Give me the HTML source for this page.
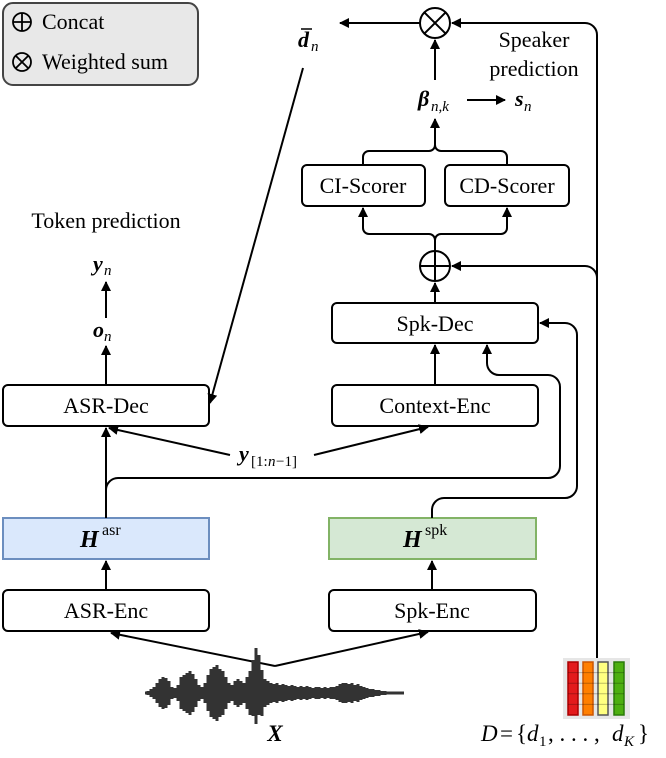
<!DOCTYPE html>
<html><head><meta charset="utf-8"><style>
body{margin:0;background:#fff}
svg text{font-family:"Liberation Serif",serif;fill:#000}
.m{font-style:italic}
</style></head><body>
<svg width="666" height="753" viewBox="0 0 666 753" xmlns="http://www.w3.org/2000/svg">
<defs><marker id="a" viewBox="0 0 10 10" refX="9" refY="5" markerWidth="5" markerHeight="5" orient="auto"><path d="M0,0 L10,5 L0,10 z" fill="#000"/></marker></defs>
<g fill="none" stroke="#000" stroke-width="2">
<rect x="3" y="3" width="195" height="82" rx="10" fill="#e8e8e8" stroke="#444"/>
<circle cx="22" cy="22" r="9" stroke-width="1.8"/><path d="M13,22h18M22,13v18" stroke-width="1.8"/>
<circle cx="22" cy="62" r="9" stroke-width="1.8"/><path d="M15.6,55.6l12.8,12.8M28.4,55.6l-12.8,12.8" stroke-width="1.8"/>
<circle cx="435" cy="23" r="15"/><path d="M424.4,12.4l21.2,21.2M445.6,12.4l-21.2,21.2"/>
<path d="M420,23H340" marker-end="url(#a)"/>
<path d="M435,80V40" marker-end="url(#a)"/>
<path d="M467,100H505" marker-end="url(#a)"/>
<path d="M363,165v-8a6,6 0 0 1 6,-6h60a6,6 0 0 0 6,-6v-26" marker-end="url(#a)"/>
<path d="M507,165v-8a6,6 0 0 0 -6,-6h-60a6,6 0 0 1 -6,-6"/>
<rect x="302" y="165" width="123" height="41" rx="5"/>
<rect x="445" y="165" width="124" height="41" rx="5"/>
<path d="M435,251v-11a6,6 0 0 0 -6,-6h-60a6,6 0 0 1 -6,-6v-20" marker-end="url(#a)"/>
<path d="M435,240a6,6 0 0 1 6,-6h60a6,6 0 0 0 6,-6v-20" marker-end="url(#a)"/>
<circle cx="435" cy="266" r="15"/><path d="M420,266h30M435,251v30"/>
<path d="M435,303v-20" marker-end="url(#a)"/>
<path d="M597,658V35a12,12 0 0 0 -12,-12H452" marker-end="url(#a)"/>
<path d="M597,278a12,12 0 0 0 -12,-12H452" marker-end="url(#a)"/>
<rect x="332" y="303" width="206" height="40" rx="5"/>
<rect x="3" y="385" width="206" height="41" rx="5"/>
<rect x="332" y="385" width="206" height="41" rx="5"/>
<rect x="3" y="518" width="206" height="41" fill="#dae8fc" stroke="#6c8ebf"/>
<rect x="329" y="518" width="207" height="41" fill="#d5e8d4" stroke="#82b366"/>
<rect x="3" y="590" width="206" height="41" rx="5"/>
<rect x="329" y="590" width="207" height="41" rx="5"/>
<path d="M303,68L210,403" marker-end="url(#a)"/>
<path d="M106,385V346" marker-end="url(#a)"/>
<path d="M106,318V282" marker-end="url(#a)"/>
<path d="M435,385V345" marker-end="url(#a)"/>
<path d="M106,590V561" marker-end="url(#a)"/>
<path d="M432,590V561" marker-end="url(#a)"/>
<path d="M106,518V428" marker-end="url(#a)"/>
<path d="M230,455L109,428" marker-end="url(#a)"/>
<path d="M314,455L428,427" marker-end="url(#a)"/>
<path d="M106,490a12,12 0 0 1 12,-12H548a12,12 0 0 0 12,-12V387a12,12 0 0 0 -12,-12H499a12,12 0 0 1 -12,-12v-18" marker-end="url(#a)"/>
<path d="M432,518v-8a12,12 0 0 1 12,-12H565a12,12 0 0 0 12,-12V335a12,12 0 0 0 -12,-12H540" marker-end="url(#a)"/>
<path d="M275,666L428,632" marker-end="url(#a)"/>
<path d="M275,666L111,633" marker-end="url(#a)"/>
</g>
<g stroke="#333" stroke-width="3" fill="none">
<path d="M145,693H404
M148,691v4M151,689v8M154,687v12M157,683v20M160,679v28M163,677v32M166,678v30M169,681v24M172,687v12M175,688v10M178,685v16M181,677v32M184,675v36M187,673v40M190,671v44M193,674v38M196,679v28M199,685v16M202,687v12M205,683v20M208,675v36M211,669v48M214,667v52M217,665v56M220,669v48M223,671v44M226,677v32M229,683v20M232,685v16M235,681v24M238,679v28M241,681v24M244,683v20M247,677v32M250,671v44M253,660v56M256,648v76M259,655v60M262,670v46M265,679v28M268,681v24M271,683v20M274,684v18M277,683v20M280,685v16M283,684v18M286,685v16M289,686v14M292,685v16M295,686v14M298,687v12M301,686v14M304,687v12M307,686v14M310,687v12M313,688v10M316,687v12M319,687v12M322,688v10M325,687v12M328,688v10M331,687v12M334,687v12M337,686v14M340,684v18M343,683v20M346,683v20M349,684v18M352,683v20M355,685v16M358,684v18M361,686v14M364,687v12M367,688v10M370,689v8M373,689v8M376,690v6M379,690v6M382,691v4M385,691v4"/>
</g>
<rect x="563" y="658" width="67" height="61" fill="#e6e6e6"/>
<g stroke-width="1.5">
<rect x="568" y="662" width="10" height="53" fill="#e31a1c" stroke="#a00"/>
<rect x="583" y="662" width="10" height="53" fill="#ff7f00" stroke="#c50"/>
<rect x="598" y="662" width="10" height="53" fill="#ffff80" stroke="#555"/>
<rect x="614" y="662" width="10" height="53" fill="#4daf10" stroke="#2a7a08"/>
</g>
<g stroke-width="1" stroke="#0004"><path d="M568,672.6h56M568,683.2h56M568,693.8h56M568,704.4h56"/></g>
<text x="42" y="29" font-size="22">Concat</text>
<text x="42" y="69" font-size="22">Weighted sum</text>
<text x="298" y="47" font-size="22" class="m" font-weight="bold">d</text><path d="M301,29h11" stroke="#000" stroke-width="1.5"/><text x="311" y="51" font-size="15" class="m">n</text>
<text x="534" y="47" font-size="22" text-anchor="middle">Speaker</text>
<text x="534" y="76" font-size="22" text-anchor="middle">prediction</text>
<text x="418" y="106" font-size="22" class="m" font-weight="bold">β</text><text x="431" y="111" font-size="15" class="m">n,k</text>
<text x="515" y="106" font-size="22" class="m" font-weight="bold">s</text><text x="524" y="111" font-size="15" class="m">n</text>
<text x="363" y="193" font-size="22" text-anchor="middle">CI-Scorer</text>
<text x="507" y="193" font-size="22" text-anchor="middle">CD-Scorer</text>
<text x="106" y="228" font-size="22" text-anchor="middle">Token prediction</text>
<text x="93" y="271" font-size="22" class="m" font-weight="bold">y</text><text x="104" y="275" font-size="15" class="m">n</text>
<text x="93" y="337" font-size="22" class="m" font-weight="bold">o</text><text x="104" y="341" font-size="15" class="m">n</text>
<text x="435" y="331" font-size="22" text-anchor="middle">Spk-Dec</text>
<text x="106" y="413" font-size="22" text-anchor="middle">ASR-Dec</text>
<text x="435" y="413" font-size="22" text-anchor="middle">Context-Enc</text>
<text x="239" y="461" font-size="22" class="m" font-weight="bold">y</text><text x="251" y="466" font-size="15">[1:</text><text x="268" y="466" font-size="15" class="m">n</text><text x="276" y="466" font-size="15">−1]</text>
<text x="80" y="547" font-size="24" class="m" font-weight="bold">H</text><text x="102" y="535" font-size="16">asr</text>
<text x="403" y="547" font-size="24" class="m" font-weight="bold">H</text><text x="425" y="535" font-size="16">spk</text>
<text x="106" y="618" font-size="22" text-anchor="middle">ASR-Enc</text>
<text x="432" y="618" font-size="22" text-anchor="middle">Spk-Enc</text>
<text x="275" y="741" font-size="23" class="m" font-weight="bold" text-anchor="middle">X</text>
<text x="481" y="741" font-size="23" class="m">D</text>
<text x="500" y="741" font-size="23">=</text>
<text x="516" y="741" font-size="23">{</text>
<text x="527" y="741" font-size="23" class="m">d</text><text x="539" y="746" font-size="15">1</text>
<text x="548" y="741" font-size="23">, . . . ,</text>
<text x="612" y="741" font-size="23" class="m">d</text><text x="624" y="746" font-size="15" class="m">K</text>
<text x="638" y="741" font-size="23">}</text>
</svg>
</body></html>
